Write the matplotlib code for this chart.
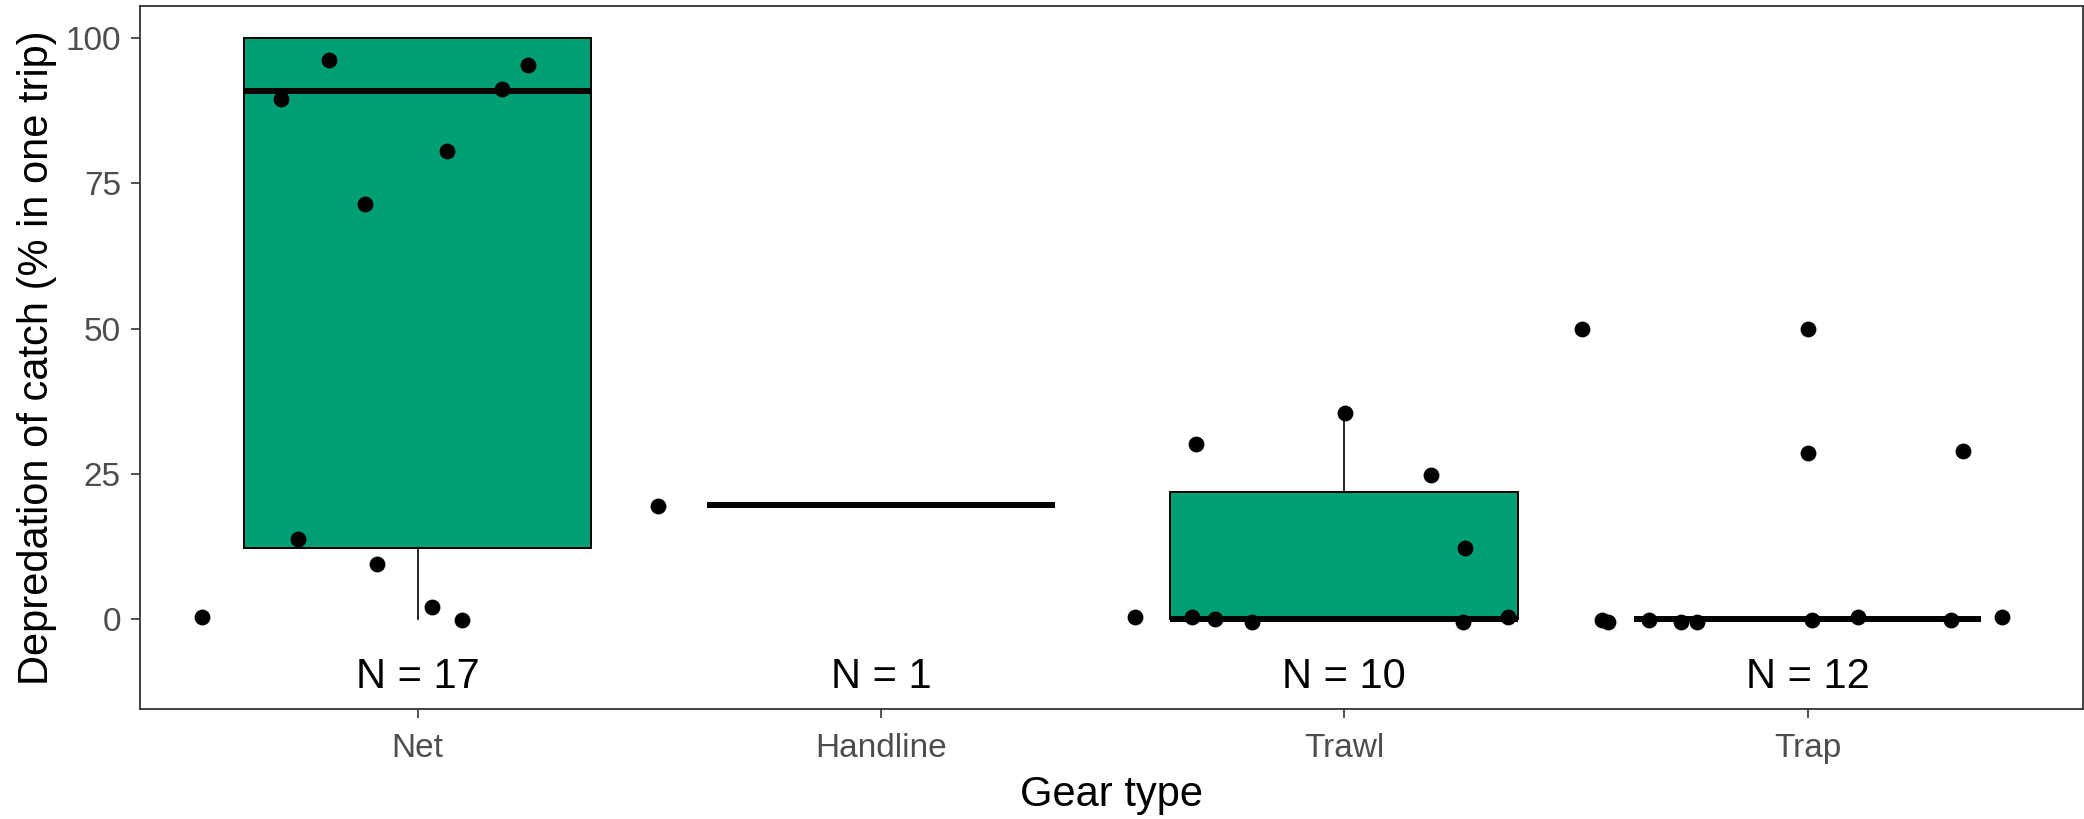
import matplotlib
matplotlib.use("Agg")
import matplotlib.pyplot as plt

plt.rcParams['font.family'] = ['Liberation Sans', 'DejaVu Sans']

# gear types and sample sizes
gears = ["Net", "Handline", "Trawl", "Trap"]
n_trips = [17, 1, 10, 12]

# box statistics (q1, median, q3, whisker ends)
q1 = [12.3, 19.7, 0.0, 0.0]
med = [91.0, 19.7, 0.0, 0.0]
q3 = [100.0, 19.7, 21.8, 0.0]
whis_lo = [0.0, 19.7, 0.0, 0.0]
whis_hi = [100.0, 19.7, 35.5, 0.0]

# jittered points (x position on category axis, value)
net_x = [0.535, 0.705, 0.809, 0.742, 0.887, 0.913, 1.064, 1.031, 1.095, 1.182, 1.238]
net_y = [0.4, 89.6, 96.3, 13.7, 71.5, 9.5, 80.5, 2.0, -0.1, 91.2, 95.4]
hand_x = [1.518]
hand_y = [19.4]
trawl_x = [2.548, 2.681, 2.672, 2.722, 2.801, 3.002, 3.188, 3.260, 3.256, 3.354]
trawl_y = [0.4, 30.1, 0.4, 0.0, -0.5, 35.5, 24.8, 12.3, -0.5, 0.4]
trap_x = [3.514, 4.0, 4.0, 4.336, 3.556, 3.569, 3.658, 3.726, 3.762, 4.01, 4.108, 4.31, 4.419]
trap_y = [49.9, 49.9, 28.5, 28.9, -0.1, -0.5, -0.1, -0.5, -0.5, -0.1, 0.4, -0.1, 0.4]

green = "#009E73"

fig = plt.figure(figsize=(20.84, 8.19), dpi=100)
ax = fig.add_axes([0.067, 0.1343, 0.9324, 0.858])

stats = []
for i in range(len(gears)):
    stats.append(dict(q1=q1[i], med=med[i], q3=q3[i],
                      whislo=whis_lo[i], whishi=whis_hi[i], fliers=[]))

ax.bxp(stats, positions=range(1, 5), widths=0.75, patch_artist=True,
       showfliers=False, showcaps=False,
       boxprops=dict(facecolor=green, edgecolor="black", linewidth=1.4),
       medianprops=dict(color="black", linewidth=4.3, solid_capstyle="butt"),
       whiskerprops=dict(color="black", linewidth=1.2))

all_x = net_x + hand_x + trawl_x + trap_x
all_y = net_y + hand_y + trawl_y + trap_y
ax.scatter(all_x, all_y, s=130, color="black", zorder=5, linewidths=0)

for i, n in enumerate(n_trips):
    ax.text(i + 1, -10, f"N = {n}", ha="center", va="center", fontsize=30, color="black")

ax.set_xlim(0.4, 4.594)
ax.set_ylim(-15.5, 105.5)
ax.set_xticks(range(1, 5))
ax.set_xticklabels(gears)
ax.set_yticks([0, 25, 50, 75, 100])

ax.tick_params(axis="both", labelsize=24, labelcolor="#4D4D4D", color="#333333",
               length=6.5, width=1.2, direction="out", pad=7)
ax.tick_params(axis="x", pad=11)
for sp in ax.spines.values():
    sp.set_linewidth(1.3)
    sp.set_color("#333333")

ax.set_xlabel("Gear type", fontsize=30, labelpad=8)
ax.set_ylabel("Depredation of catch (% in one trip)", fontsize=30, labelpad=6)

fig.savefig("out.png", dpi=100)
